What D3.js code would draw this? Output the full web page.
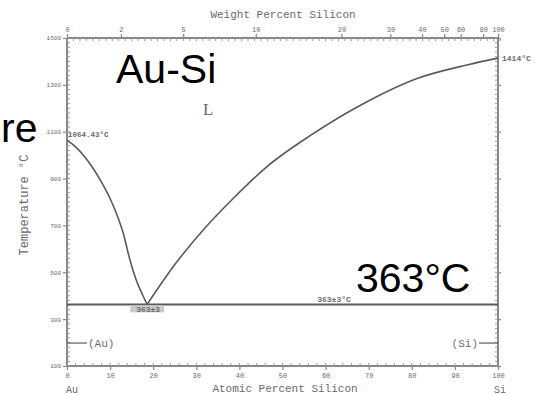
<!DOCTYPE html>
<html>
<head>
<meta charset="utf-8">
<script src="https://cdn.jsdelivr.net/npm/d3@7"></script>
<style>
  body { margin: 0; background: #fff; }
  svg { display: block; }
</style>
</head>
<body>
<svg id="chart" width="537" height="395"></svg>
<script>
// liquidus, Au-rich side (atomic % Si, temperature °C)
const auLiqAt = [0, 2, 4, 6, 8, 10, 12, 13, 14.5, 16, 17.5, 18.6]
const auLiqT = [1064, 1035, 995, 945, 885, 815, 725, 670, 560, 470, 405, 363]
// liquidus, Si-rich side
const siLiqAt = [18.6, 25.1, 32, 38.5, 46.4, 56.4, 69.6, 81.2, 92.8, 100]
const siLiqT = [363, 535, 689, 814, 951, 1083, 1228, 1327, 1385, 1414]
const eutecticT = 363
const eutecticAt = 18.6
const auMelt = 1064.43
const siMelt = 1414

const atTicks = [0, 10, 20, 30, 40, 50, 60, 70, 80, 90, 100]
const tempTicks = [100, 300, 500, 700, 900, 1100, 1300, 1500]
const wtTicks = [0, 2, 5, 10, 20, 30, 40, 50, 60, 80, 100]

// wt% Si -> at% Si
const M_AU = 196.967, M_SI = 28.0855
const wtToAt = w => {
  if (w >= 100) return 100
  const si = w / M_SI, au = (100 - w) / M_AU
  return 100 * si / (si + au)
}

const svg = d3.select("#chart")
const gray = "#5a5a5a"
const txt = "#6a6a6a"
const mono = "'Liberation Mono', 'DejaVu Sans Mono', monospace"

const x = d3.scaleLinear().domain([0, 100]).range([67, 498])
const y = d3.scaleLinear().domain([100, 1500]).range([366, 38])

// frame lines
const axG = svg.append("g").attr("stroke", "#888").attr("stroke-width", 2).attr("fill", "none")
axG.append("line").attr("x1", x(0)).attr("x2", x(100)).attr("y1", y(1500)).attr("y2", y(1500))
axG.append("line").attr("x1", x(0)).attr("x2", x(100)).attr("y1", y(100)).attr("y2", y(100))
axG.append("line").attr("x1", x(0)).attr("x2", x(0)).attr("y1", y(100)).attr("y2", y(1500))
axG.append("line").attr("x1", x(100)).attr("x2", x(100)).attr("y1", y(100)).attr("y2", y(1500))

// minor ticks
const minorG = svg.append("g").attr("stroke", "#999").attr("stroke-width", 1)
minorG.selectAll(".mb").data(d3.range(0, 101, 2)).join("line")
  .attr("x1", d => x(d)).attr("x2", d => x(d)).attr("y1", y(100)).attr("y2", y(100) - 3)
minorG.selectAll(".mt").data(d3.range(0, 101, 1.5)).join("line")
  .attr("x1", d => x(d)).attr("x2", d => x(d)).attr("y1", y(1500)).attr("y2", y(1500) + 3)
minorG.selectAll(".ml").data(d3.range(100, 1501, 20)).join("line")
  .attr("x1", x(0)).attr("x2", x(0) + 3).attr("y1", d => y(d)).attr("y2", d => y(d))
minorG.selectAll(".mr").data(d3.range(100, 1501, 20)).join("line")
  .attr("x1", x(100)).attr("x2", x(100) - 3).attr("y1", d => y(d)).attr("y2", d => y(d))

// axes
const styleAxis = g => {
  g.select(".domain").remove()
  g.selectAll(".tick line").attr("stroke", "#888").attr("stroke-width", 1.2)
  g.selectAll(".tick text").attr("fill", txt).attr("font-family", mono)
}
svg.append("g").attr("transform", `translate(0,${y(100)})`)
  .call(d3.axisBottom(x).tickValues(atTicks).tickSize(4).tickPadding(3))
  .call(styleAxis).selectAll("text").attr("font-size", 7)
svg.append("g").attr("transform", `translate(${x(0)},0)`)
  .call(d3.axisLeft(y).tickValues(tempTicks).tickFormat(d3.format("d")).tickSize(4).tickPadding(2))
  .call(styleAxis).selectAll("text").attr("font-size", 6)
svg.append("g").attr("transform", `translate(${x(100)},0)`)
  .call(d3.axisRight(y).tickValues(tempTicks).tickSize(3).tickFormat(""))
  .call(styleAxis)
svg.append("g").attr("transform", `translate(0,${y(1500)})`)
  .call(d3.axisTop(x).tickValues(wtTicks.map(wtToAt)).tickFormat((d, i) => wtTicks[i]).tickSize(4).tickPadding(2))
  .call(styleAxis).selectAll("text").attr("font-size", 7)

// eutectic line
svg.append("line")
  .attr("x1", x(0)).attr("x2", x(100)).attr("y1", y(eutecticT)).attr("y2", y(eutecticT))
  .attr("stroke", gray).attr("stroke-width", 2)

// liquidus curves
const line = d3.line().x(d => x(d[0])).y(d => y(d[1])).curve(d3.curveMonotoneX)
svg.append("path").datum(d3.zip(auLiqAt, auLiqT)).attr("d", line)
  .attr("fill", "none").attr("stroke", gray).attr("stroke-width", 1.6)
svg.append("path").datum(d3.zip(siLiqAt, siLiqT)).attr("d", line)
  .attr("fill", "none").attr("stroke", gray).attr("stroke-width", 1.6)

// solid solution markers
const ssT = 198
svg.append("line").attr("x1", x(0)).attr("x2", x(0) + 20).attr("y1", y(ssT)).attr("y2", y(ssT))
  .attr("stroke", gray).attr("stroke-width", 1.2)
svg.append("line").attr("x1", x(100) - 19).attr("x2", x(100)).attr("y1", y(ssT)).attr("y2", y(ssT))
  .attr("stroke", gray).attr("stroke-width", 1.2)

// small scanned labels
const small = (t, px, py, size, anchor, bold) => svg.append("text")
  .attr("x", px).attr("y", py).attr("font-family", mono).attr("font-size", size)
  .attr("fill", txt).attr("text-anchor", anchor || "start")
  .attr("font-weight", bold ? "bold" : "normal").text(t)

small("1064.43°C", x(0) + 1, y(auMelt) - 3, 7.5, "start", true)
small("1414°C", x(100) + 4, y(siMelt) + 3, 8, "start", true)
svg.append("rect").attr("x", x(eutecticAt) - 17).attr("y", y(eutecticT) + 1).attr("width", 34).attr("height", 7).attr("fill", "#ccc")
small("363±3", x(eutecticAt) + 1, y(eutecticT) + 7.5, 8, "middle", true)
small("363±3°C", 334, y(eutecticT) - 2, 8, "middle", true)
small("(Au)", x(0) + 21, y(ssT) + 4, 11, "start")
small("(Si)", x(100) - 20, y(ssT) + 4, 11, "end")
small("L", 203, 115, 17, "start").attr("font-family", "'Liberation Serif', serif")

small("Weight Percent Silicon", 283, 18, 11, "middle")
small("Atomic Percent Silicon", 285, 392, 11, "middle")
small("Au", 72, 393, 10, "middle")
small("Si", 500, 393, 10, "middle")
small("Temperature °C", 0, 0, 12, "middle")
  .attr("transform", "translate(28,205) rotate(-90)")

// overlay slide text
const big = (t, px, py) => svg.append("text").attr("x", px).attr("y", py)
  .attr("font-family", "'Liberation Sans', Arial, sans-serif").attr("font-size", 41)
  .attr("fill", "#000").text(t)
big("Au-Si", 116, 83)
big("363°C", 356, 292)
big("re", 1, 142)
</script>
</body>
</html>
